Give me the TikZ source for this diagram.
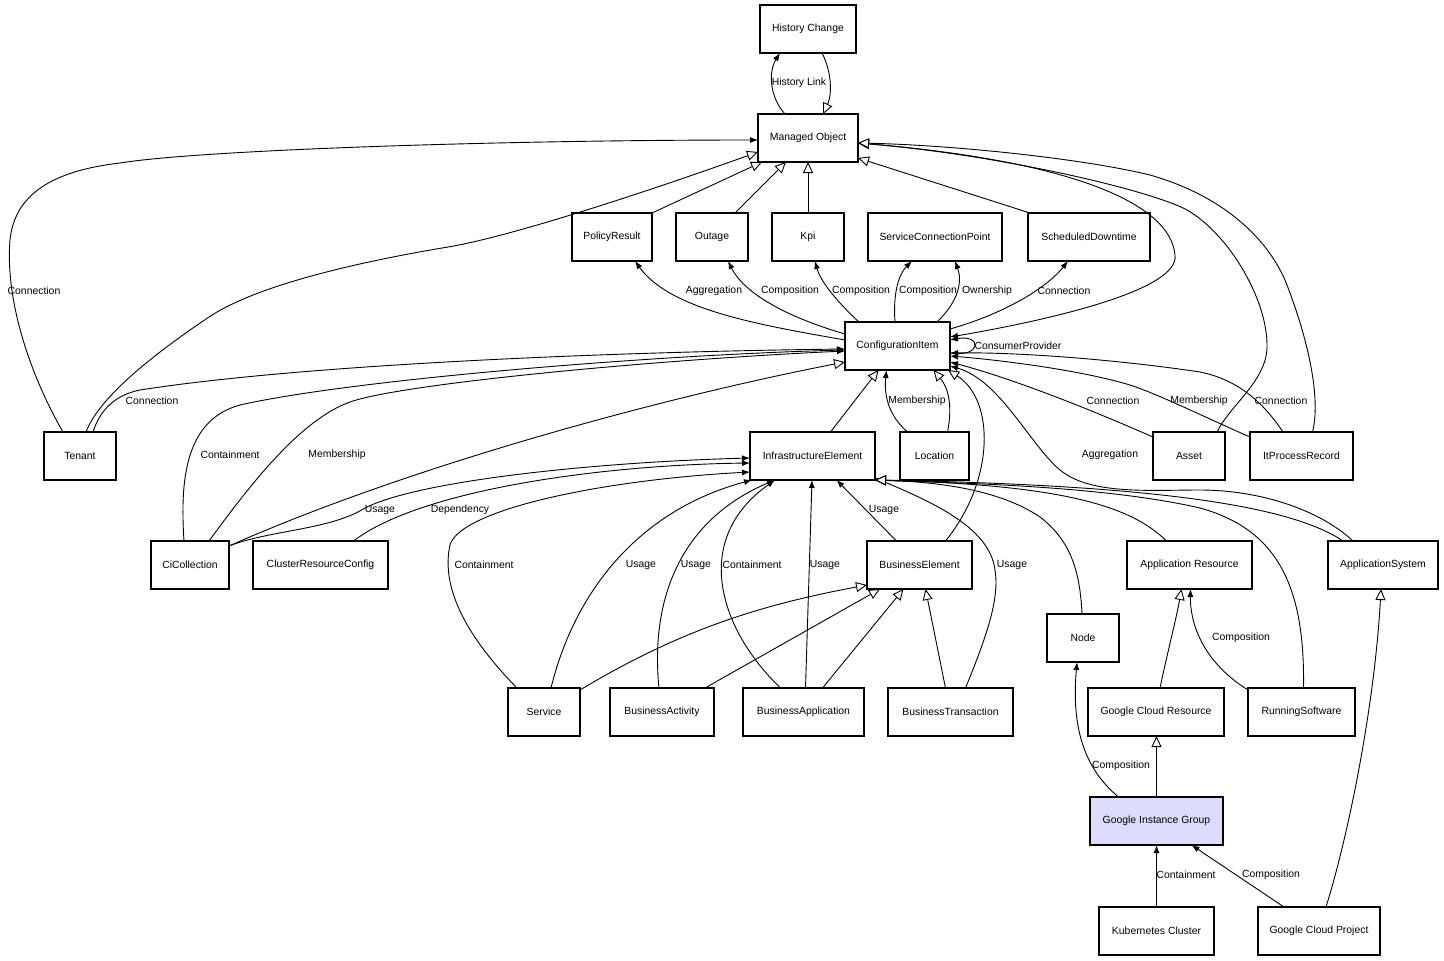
\documentclass[tikz,border=0pt]{standalone}
\usepackage{fontspec}
\setmainfont{Liberation Sans}
\usetikzlibrary{arrows.meta}
\newcommand\lblfont{\fontsize{10.4}{12}\selectfont}
\definecolor{gigfill}{RGB}{220,220,252}
\tikzset{
  tipa/.tip={Latex[length=8pt,width=6pt]},
  tipg/.tip={Triangle[length=11pt,width=10pt,fill=white]},
  box/.style={draw, line width=1.1pt, minimum height=48pt, inner sep=0pt, outer sep=0pt, fill=white, font=\lblfont},
  lab/.style={inner sep=0pt, font=\lblfont},
  conn/.style={line width=0.9pt},
  assoc/.style={conn, -tipa},
  gen/.style={conn, -tipg},
}
\begin{document}
\begin{tikzpicture}[x=1pt,y=-1pt]
\useasboundingbox (0,0) rectangle (1444,961);
% nodes
\node[box, minimum width=96pt]  (hc)     at (808,29)    {History Change};
\node[box, minimum width=100pt] (mo)     at (808,138)   {Managed Object};
\node[box, minimum width=80pt]  (pr)     at (612,237)   {PolicyResult};
\node[box, minimum width=72pt]  (outage) at (712,237)   {Outage};
\node[box, minimum width=72pt]  (kpi)    at (808,237)   {Kpi};
\node[box, minimum width=134pt] (scp)    at (935,237)   {ServiceConnectionPoint};
\node[box, minimum width=122pt] (sd)     at (1089,237)  {ScheduledDowntime};
\node[box, minimum width=105pt] (ci)     at (897.5,346) {ConfigurationItem};
\node[box, minimum width=72pt]  (tenant) at (80,456)    {Tenant};
\node[box, minimum width=125pt] (ie)     at (812.5,456) {InfrastructureElement};
\node[box, minimum width=69pt]  (loc)    at (934.5,456) {Location};
\node[box, minimum width=72pt]  (asset)  at (1189,456)  {Asset};
\node[box, minimum width=103pt] (itpr)   at (1301.5,456){ItProcessRecord};
\node[box, minimum width=78pt]  (cic)    at (190,565)   {CiCollection};
\node[box, minimum width=135pt] (crc)    at (320.5,565) {ClusterResourceConfig};
\node[box, minimum width=105pt] (be)     at (919.5,565) {BusinessElement};
\node[box, minimum width=125pt] (ar)     at (1189.5,565){Application Resource};
\node[box, minimum width=110pt] (as)     at (1383,565)  {ApplicationSystem};
\node[box, minimum width=72pt]  (nd)     at (1083,638)  {Node};
\node[box, minimum width=72pt]  (svc)    at (544,712)   {Service};
\node[box, minimum width=104pt] (ba)     at (662,712)   {BusinessActivity};
\node[box, minimum width=121pt] (bapp)   at (803.5,712) {BusinessApplication};
\node[box, minimum width=125pt] (bt)     at (950.5,712) {BusinessTransaction};
\node[box, minimum width=136pt] (gcr)    at (1156,712)  {Google Cloud Resource};
\node[box, minimum width=107pt] (rs)     at (1301.5,712){RunningSoftware};
\node[box, minimum width=133pt, fill=gigfill] (gig) at (1156.5,821) {Google Instance Group};
\node[box, minimum width=115pt] (kc)     at (1156.5,931){Kubernetes Cluster};
\node[box, minimum width=122pt] (gcp)    at (1319,931)  {Google Cloud Project};

% History link
\draw[assoc] ([xshift=-23pt]mo.north) .. controls (770,98) and (768,72) .. ([xshift=-28pt]hc.south);
\draw[gen] ([xshift=14pt]hc.south) .. controls (832,72) and (832,95) .. ([xshift=15pt]mo.north);
% Tenant
\draw[assoc] ([xshift=-17pt]tenant.north) .. controls (30,375) and (5,300) .. (10,240) .. controls (15,190) and (60,170) .. (120,163) .. controls (200,150) and (500,140) .. ([yshift=-2pt]mo.west);
\draw[gen] ([xshift=6pt]tenant.north) .. controls (100,395) and (160,350) .. (209,317) .. controls (260,283) and (370,260) .. (448,247) .. controls (520,235) and (680,180) .. ([yshift=-14pt]mo.west);
\draw[assoc] ([xshift=13pt]tenant.north) .. controls (100,410) and (115,395) .. (140,390) .. controls (300,365) and (600,352) .. ([yshift=-3pt]ci.west);
% CiCollection
\draw[assoc] ([xshift=-6pt]cic.north) .. controls (180,480) and (185,420) .. (240,405) .. controls (350,380) and (650,355) .. ([yshift=-4pt]ci.west);
\draw[assoc] ([xshift=19pt]cic.north) .. controls (250,485) and (300,420) .. (350,402) .. controls (400,384) and (650,360) .. ([yshift=-5pt]ci.west);
\draw[gen] ([yshift=-5pt]cic.north east) .. controls (400,470) and (650,400) .. ([yshift=-16pt]ci.west);
\draw[assoc] ([yshift=-5pt]cic.north east) .. controls (270,530) and (330,530) .. (365,508) .. controls (420,480) and (600,462) .. ([yshift=-2pt]ie.west);
\draw[assoc] ([xshift=33pt]crc.north) .. controls (420,490) and (600,465) .. ([yshift=-7pt]ie.west);
% into IE from below
\draw[assoc] ([xshift=-27pt]svc.north) .. controls (470,640) and (440,590) .. (450,545) .. controls (460,510) and (600,480) .. ([yshift=-16pt]ie.west);
\draw[assoc] ([xshift=7pt]svc.north) .. controls (575,590) and (640,510) .. ([xshift=2pt]ie.south west);
\draw[assoc] ([xshift=-3pt]ba.north) .. controls (650,600) and (680,520) .. ([xshift=25pt]ie.south west);
\draw[assoc] ([xshift=-23pt]bapp.north) .. controls (720,630) and (690,540) .. ([xshift=25pt]ie.south west);
\draw[assoc] ([xshift=2pt]bapp.north) -- ([xshift=-0.5pt]ie.south);
\draw[assoc] ([xshift=-23pt]be.north) -- ([xshift=24pt]ie.south);
\draw[assoc] ([xshift=15pt]bt.north) .. controls (985,640) and (1000,600) .. (995,570) .. controls (990,530) and (940,505) .. ([yshift=2pt]ie.south east);
\draw[gen] ([xshift=-1pt]nd.north) .. controls (1080,570) and (1070,540) .. (1040,517) .. controls (1000,490) and (940,482) .. (ie.south east);
\draw[gen] ([xshift=-23pt]ar.north) .. controls (1130,505) and (1060,485) .. (ie.south east);
\draw[gen] ([xshift=2pt]rs.north) .. controls (1305,590) and (1280,530) .. (1200,508) .. controls (1100,485) and (950,483) .. (ie.south east);
\draw[gen] ([xshift=-40pt]as.north) .. controls (1290,505) and (1150,485) .. (ie.south east);
% into CI from below
\draw[gen] ([xshift=18pt]ie.north) -- ([xshift=-19pt]ci.south);
\draw[assoc] ([xshift=-27pt]loc.north) .. controls (888,415) and (884,395) .. ([xshift=-11pt]ci.south);
\draw[gen] ([xshift=13pt]loc.north) .. controls (952,410) and (950,390) .. ([xshift=36pt]ci.south);
\draw[gen] ([xshift=26pt]be.north) .. controls (995,480) and (995,400) .. ([xshift=-2pt]ci.south east);
\draw[assoc] ([xshift=-30pt]as.north) .. controls (1320,510) and (1260,490) .. (1200,490) .. controls (1150,490) and (1090,495) .. (1060,470) .. controls (1030,445) and (1000,380) .. ([yshift=-20pt]ci.east);
% CI and MO
\draw[conn, tipg-tipa] ([yshift=-5pt]mo.east) .. controls (1060,160) and (1170,200) .. (1175,255) .. controls (1180,290) and (1050,320) .. ([yshift=9pt]ci.east);
\draw[gen] ([xshift=28pt]asset.north) .. controls (1230,405) and (1268,380) .. (1267,345) .. controls (1267,300) and (1230,235) .. (1187,210) .. controls (1150,190) and (1000,155) .. ([yshift=-5pt]mo.east);
\draw[gen] ([xshift=11pt]itpr.north) .. controls (1322,395) and (1305,330) .. (1285,280) .. controls (1265,235) and (1220,195) .. (1150,175) .. controls (1080,158) and (950,145) .. ([yshift=-5pt]mo.east);
% CI to row 2
\draw[assoc] ([yshift=17pt]ci.east) .. controls (1000,315) and (1045,290) .. ([xshift=-21pt]sd.south);
\draw[assoc] ([xshift=39.5pt]ci.north) .. controls (960,300) and (962,280) .. ([xshift=20pt]scp.south);
\draw[assoc] ([xshift=-2.5pt]ci.north) .. controls (893,295) and (898,275) .. ([xshift=-23pt]scp.south);
\draw[assoc] ([xshift=-38.5pt]ci.north) .. controls (835,300) and (820,280) .. ([xshift=7pt]kpi.south);
\draw[assoc] ([yshift=12pt]ci.west) .. controls (790,318) and (745,295) .. ([xshift=16pt]outage.south);
\draw[assoc] ([yshift=6pt]ci.west) .. controls (760,325) and (670,310) .. ([xshift=23pt]pr.south);
\draw[assoc] ([yshift=-7pt]ci.east) .. controls (982,358) and (982,334) .. ([yshift=6pt]ci.east);
% Asset, ItProcessRecord to CI
\draw[assoc] ([yshift=19pt]asset.west) .. controls (1080,405) and (1010,378) .. ([yshift=-16pt]ci.east);
\draw[assoc] ([yshift=19pt]itpr.west) .. controls (1200,415) and (1160,395) .. (1130,385) .. controls (1080,370) and (1000,360) .. ([yshift=-10pt]ci.east);
\draw[assoc] ([xshift=-18.5pt]itpr.north) .. controls (1265,405) and (1240,380) .. (1200,372) .. controls (1120,360) and (1020,352) .. ([yshift=-7pt]ci.east);
% row 2 to MO
\draw[gen] (pr.north east) -- ([xshift=4pt]mo.south west);
\draw[gen] ([xshift=23pt]outage.north) -- ([xshift=-22pt]mo.south);
\draw[gen] (kpi.north) -- (mo.south);
\draw[gen] ([xshift=2pt]sd.north west) -- ([yshift=4pt]mo.south east);
% to BusinessElement
\draw[gen] ([yshift=-2pt]svc.north east) .. controls (680,630) and (760,605) .. ([yshift=4pt]be.south west);
\draw[gen] ([xshift=-9pt]ba.north east) -- ([xshift=13pt]be.south west);
\draw[gen] ([xshift=19pt]bapp.north) -- ([xshift=-16pt]be.south);
\draw[gen] ([xshift=-5pt]bt.north) -- ([xshift=6pt]be.south);
% Google part
\draw[gen] ([xshift=4pt]gcr.north) .. controls (1168,650) and (1176,620) .. ([xshift=-8pt]ar.south);
\draw[assoc] ([yshift=-2pt]rs.north west) .. controls (1200,660) and (1190,620) .. ([xshift=1pt]ar.south);
\draw[gen] (gig.north) -- (gig.north |- gcr.south);
\draw[assoc] ([xshift=-38pt]gig.north) .. controls (1080,765) and (1072,720) .. ([xshift=-6pt]nd.south);
\draw[assoc] (kc.north) -- (gig.south);
\draw[assoc] ([xshift=-35pt]gcp.north) -- ([xshift=35pt]gig.south);
\draw[gen] ([xshift=7pt]gcp.north) .. controls (1350,830) and (1375,700) .. ([xshift=-2pt]as.south);

% labels
\node[lab] (l1)  at (799,83)   {History Link};
\node[lab] (l2)  at (34,291)   {Connection};
\node[lab] (l3)  at (714,291)  {Aggregation};
\node[lab] (l4)  at (790,291)  {Composition};
\node[lab] (l5)  at (861,291)  {Composition};
\node[lab] (l6)  at (928,291)  {Composition};
\node[lab] (l7)  at (987,291)  {Ownership};
\node[lab] (l8)  at (1064,291) {Connection};
\node[lab] (l9)  at (1018,346) {ConsumerProvider};
\node[lab] (l10) at (152,401)  {Connection};
\node[lab] (l11) at (917,401)  {Membership};
\node[lab] (l12) at (1113,401) {Connection};
\node[lab] (l13) at (1199,401) {Membership};
\node[lab] (l14) at (1281,401) {Connection};
\node[lab] (l15) at (230,455)  {Containment};
\node[lab] (l16) at (337,455)  {Membership};
\node[lab] (l17) at (1110,455) {Aggregation};
\node[lab] (l18) at (380,510)  {Usage};
\node[lab] (l19) at (460,510)  {Dependency};
\node[lab] (l20) at (884,510)  {Usage};
\node[lab] (l21) at (484,565)  {Containment};
\node[lab] (l22) at (641,565)  {Usage};
\node[lab] (l23) at (696,565)  {Usage};
\node[lab] (l24) at (752,565)  {Containment};
\node[lab] (l25) at (825,565)  {Usage};
\node[lab] (l26) at (1012,565) {Usage};
\node[lab] (l27) at (1241,638) {Composition};
\node[lab] (l28) at (1121,766) {Composition};
\node[lab] (l29) at (1186,875) {Containment};
\node[lab] (l30) at (1271,875) {Composition};
\end{tikzpicture}
\end{document}
